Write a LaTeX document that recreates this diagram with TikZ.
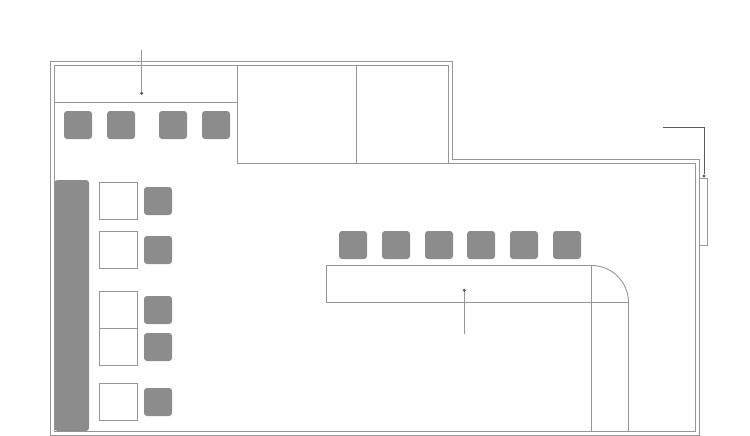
\documentclass[tikz,border=0pt]{standalone}
\usepackage{xcolor}
\usetikzlibrary{
    positioning
}
\definecolor{planLine}{RGB}{150, 150, 150}
\definecolor{planFill}{RGB}{140, 140, 140}
\definecolor{planLeader}{RGB}{90, 90, 90}
\definecolor{planLeaderSoft}{RGB}{150, 150, 150}
\tikzset{
    % walls and fixed furniture
    wall/.style={
        draw=planLine,
        line width=0.9pt
    },
    % grey seats
    seat/.style={
        rectangle,
        rounded corners=3pt,
        fill=planFill,
        inner sep=0pt,
        outer sep=0pt,
        minimum size=28pt,
        anchor=north west
    },
    % white square tables
    tablebox/.style={
        rectangle,
        draw=planLine,
        line width=0.9pt,
        fill=white,
        inner sep=0pt,
        outer sep=0pt,
        minimum width=38pt,
        minimum height=37pt,
        anchor=north west
    },
    % end point of a leader
    tip/.style={
        circle,
        fill=planLeader,
        inner sep=0pt,
        outer sep=0pt,
        minimum size=3.4pt
    },
    leader/.style={
        draw=planLeader,
        line width=1pt
    },
    leadersoft/.style={
        draw=planLeaderSoft,
        line width=1.5pt
    }
}
\begin{document}
\begin{tikzpicture}[x=1pt, y=-1pt]
    \useasboundingbox (0,0) rectangle (750,436);

    % outer and inner wall
    \draw[wall] (50.5,61.5) -- (452.5,61.5) -- (452.5,159.5) -- (699.5,159.5) -- (699.5,435) -- (50.5,435) -- cycle;
    \draw[wall] (54.5,65.5) -- (448.5,65.5) -- (448.5,163.5) -- (695.5,163.5) -- (695.5,431.5) -- (54.5,431.5) -- cycle;

    % rooms at the top
    \draw[wall] (54.5,102.5) -- (237.5,102.5);
    \draw[wall] (237.5,65.5) -- (237.5,163.5) -- (448.5,163.5);
    \draw[wall] (356.5,65.5) -- (356.5,163.5);

    % window
    \node[rectangle, draw=planLine, line width=0.9pt, inner sep=0pt, outer sep=0pt,
        minimum width=8pt, minimum height=67pt, anchor=north west] (window) at (699.5,178.5) {};

    % bench on the left
    \node[rectangle, rounded corners=3pt, fill=planFill, inner sep=0pt, outer sep=0pt,
        minimum width=34.5pt, minimum height=251pt, anchor=north west] (bench) at (54.5,180) {};

    % seats
    \foreach \x [count=\i] in {64,107,159,202}
        \node[seat] (top\i) at (\x,111) {};
    \foreach \x [count=\i] in {339,382,425,467,510,553}
        \node[seat] (bar\i) at (\x,231) {};
    \foreach \y [count=\i] in {187,236,296,333,388}
        \node[seat] (side\i) at (144,\y) {};

    % tables
    \foreach \y [count=\i] in {182.5,231.5,291.5,328.5,383.5}
        \node[tablebox] (table\i) at (99.5,\y) {};

    % counter
    \draw[wall] (591.5,265.5) -- (326.5,265.5) -- (326.5,302.5) -- (628.5,302.5);
    \draw[wall] (591.5,265.5) arc[start angle=90, end angle=0, radius=37pt];
    \draw[wall] (591.5,265.5) -- (591.5,431.5);
    \draw[wall] (628.5,302.5) -- (628.5,431.5);

    % leaders
    \node[tip] (tipRoom) at (141.7,93.3) {};
    \coordinate (startRoom) at (141.7,50);
    \draw[leadersoft] (startRoom) -- (tipRoom);

    \node[tip] (tipCounter) at (464.3,290.3) {};
    \coordinate (startCounter) at (464.3,333.7);
    \draw[leadersoft] (startCounter) -- (tipCounter);

    \node[tip] (tipWindow) at (704,176) {};
    \coordinate (startWindow) at (663,127.5);
    \draw[leader] (startWindow) -| (tipWindow);

\end{tikzpicture}
\end{document}
